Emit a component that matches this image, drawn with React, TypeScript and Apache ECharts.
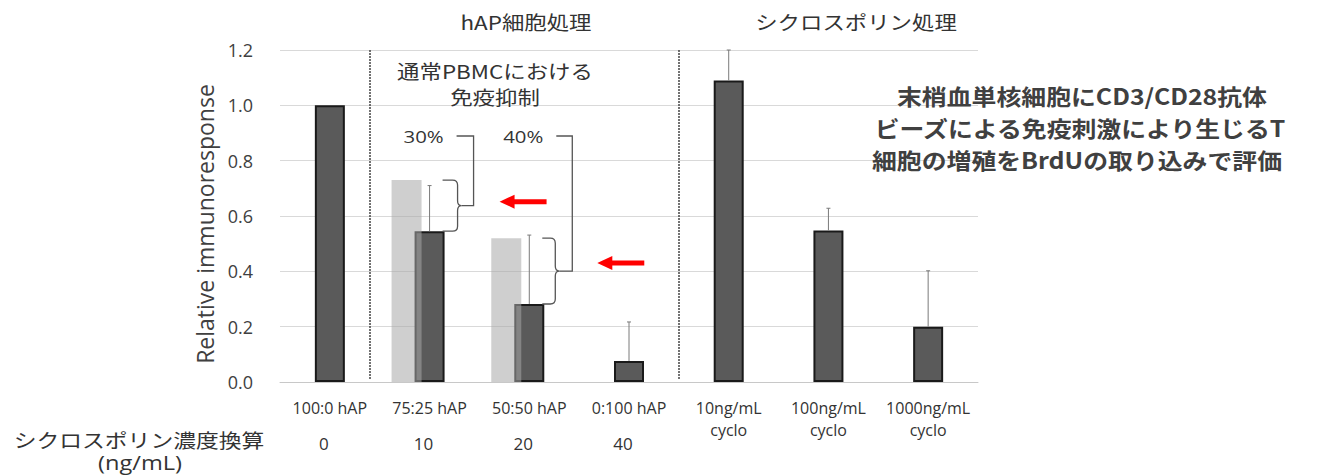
import React, { useEffect, useRef } from "react";
import * as echarts from "echarts";

// Treatment groups along the x axis
const categories = [
  "100:0 hAP",
  "75:25 hAP",
  "50:50 hAP",
  "0:100 hAP",
  "10ng/mL\ncyclo",
  "100ng/mL\ncyclo",
  "1000ng/mL\ncyclo",
];
// Relative immunoresponse (dark bars)
const relativeResponse = [1.0, 0.545, 0.282, 0.076, 1.09, 0.548, 0.2];
// Upper end of each error bar (null = no error bar)
const errorUpper: (number | null)[] = [null, 0.71, 0.531, 0.217, 1.2, 0.628, 0.402];
// Immunosuppression seen in normal PBMC (light overlay bars)
const normalPbmcResponse: (number | null)[] = [null, 0.73, 0.52, null, null, null, null];
// Cyclosporin-equivalent concentration (ng/mL) of each hAP ratio
const cyclosporinEquivalent = ["0", "10", "20", "40", "", "", ""];
// Suppression percentages marked by the brackets
const suppressionLabels = ["30%", "40%"];

const CJK = "'Noto Sans CJK JP', 'Noto Sans', sans-serif";
const LATIN = "'Open Sans', 'Noto Sans', sans-serif";

export default function App() {
  const ref = useRef<HTMLDivElement>(null);

  useEffect(() => {
    if (!ref.current) return;
    const chart = echarts.init(ref.current, undefined, { renderer: "svg" });

    const lightData = normalPbmcResponse
      .map((v, i) => (v == null ? null : [i, v]))
      .filter((d) => d != null);
    const errorData = errorUpper
      .map((u, i) => (u == null ? null : [i, relativeResponse[i], u]))
      .filter((d) => d != null);

    chart.setOption({
      animation: false,
      backgroundColor: "#ffffff",
      grid: { left: 280, right: 363, top: 50, bottom: 94, containLabel: false },
      xAxis: [
        {
          type: "category",
          data: categories,
          axisLine: { lineStyle: { color: "#c8c8c8", width: 1 } },
          axisTick: { show: false },
          axisLabel: {
            interval: 0,
            margin: 15,
            fontFamily: LATIN,
            fontSize: 16,
            lineHeight: 22,
            color: "#333333",
          },
        },
        {
          type: "category",
          position: "bottom",
          offset: 42,
          data: cyclosporinEquivalent,
          axisLine: { show: false },
          axisTick: { show: false },
          axisLabel: {
            interval: 0,
            margin: 8,
            fontFamily: LATIN,
            fontSize: 17,
            lineHeight: 22,
            color: "#333333",
            padding: [0, 12, 0, 0],
          },
        },
      ],
      yAxis: {
        type: "value",
        min: 0,
        max: 1.2,
        interval: 0.2,
        name: "Relative immunoresponse",
        nameLocation: "middle",
        nameRotate: 90,
        nameGap: 64,
        nameTextStyle: {
          fontFamily: LATIN,
          fontSize: 23,
          color: "#404040",
          padding: [0, 16, 0, 0],
        },
        axisLine: { show: false },
        axisTick: { show: false },
        axisLabel: {
          margin: 27,
          fontFamily: LATIN,
          fontSize: 18,
          color: "#404040",
          formatter: (v: number) => v.toFixed(1),
        },
        splitLine: { lineStyle: { color: "#d9d9d9", width: 1 } },
      },
      series: [
        {
          type: "bar",
          data: relativeResponse,
          barWidth: 30,
          z: 2,
          itemStyle: { color: "#5a5a5a", borderColor: "#1a1a1a", borderWidth: 2 },
        },
        {
          type: "custom",
          z: 3,
          data: lightData,
          renderItem: (params: any, api: any) => {
            const top = api.coord([api.value(0), api.value(1)]);
            const base = api.coord([api.value(0), 0]);
            const w = 30;
            return {
              type: "rect",
              shape: { x: top[0] - 23 - w / 2, y: top[1], width: w, height: base[1] - top[1] },
              style: { fill: "rgba(168,168,168,0.55)" },
            };
          },
        },
        {
          type: "custom",
          z: 4,
          data: errorData,
          renderItem: (params: any, api: any) => {
            const lo = api.coord([api.value(0), api.value(1)]);
            const hi = api.coord([api.value(0), api.value(2)]);
            const s = { stroke: "#7a7a7a", lineWidth: 1 };
            return {
              type: "group",
              children: [
                { type: "line", shape: { x1: lo[0], y1: lo[1], x2: lo[0], y2: hi[1] }, style: s },
                { type: "line", shape: { x1: lo[0] - 2, y1: hi[1], x2: lo[0] + 2, y2: hi[1] }, style: s },
              ],
            };
          },
        },
      ],
    });

    // Annotation layer: brackets, arrows, headings
    const px = (i: number, v: number) =>
      chart.convertToPixel({ xAxisIndex: 0, yAxisIndex: 0 }, [i, v]) as number[];

    const braceD = (L: number, S: number, T: number, yt: number, yb: number) => {
      const ym = (yt + yb) / 2;
      const r = 5;
      return (
        `M${L},${yt} L${S - r},${yt} Q${S},${yt} ${S},${yt + r} L${S},${ym - r} ` +
        `Q${S},${ym} ${T},${ym} Q${S},${ym} ${S},${ym + r} L${S},${yb - r} ` +
        `Q${S},${yb} ${S - r},${yb} L${L},${yb}`
      );
    };

    const groups = [
      { i: 1, sOff: 28, tOff: 32, vOff: 44, arrowOff: 70, arrowDy: -4 },
      { i: 2, sOff: 26, tOff: 30, vOff: 43, arrowOff: 68, arrowDy: -8 },
    ];
    const bracketTop = 136;
    const lineStyle = { stroke: "#555555", lineWidth: 1.3, fill: "none" };
    const ann: any[] = [];

    groups.forEach((g, k) => {
      const cx = px(g.i, 0)[0];
      const yt = px(g.i, normalPbmcResponse[g.i] as number)[1];
      const yb = px(g.i, relativeResponse[g.i])[1];
      const ym = (yt + yb) / 2;
      const name = `brace${k}`;
      echarts.graphic.registerShape(
        name,
        echarts.graphic.extendPath(braceD(cx + 13, cx + g.sOff, cx + g.tOff, yt, yb), {}) as any
      );
      ann.push({ type: name, z: 10, style: { ...lineStyle } });
      ann.push({
        type: "polyline",
        z: 10,
        shape: {
          points: [
            [cx + 27, bracketTop],
            [cx + g.vOff, bracketTop],
            [cx + g.vOff, ym],
            [cx + g.tOff, ym],
          ],
        },
        style: { ...lineStyle },
      });
      ann.push({
        type: "text",
        z: 10,
        x: cx - 6,
        y: bracketTop,
        scaleX: 1.2,
        style: {
          text: suppressionLabels[k],
          fontFamily: LATIN,
          fontSize: 17,
          fill: "#333333",
          align: "center",
          verticalAlign: "middle",
        },
      });
      // red arrow pointing at the bracket
      const tipX = cx + g.arrowOff;
      const ay = ym + g.arrowDy;
      ann.push({
        type: "polygon",
        z: 10,
        shape: { points: [[tipX, ay], [tipX + 15, ay - 7], [tipX + 15, ay + 7]] },
        style: { fill: "#ff0000" },
      });
      ann.push({
        type: "rect",
        z: 10,
        shape: { x: tipX + 14, y: ay - 2.5, width: 33, height: 5 },
        style: { fill: "#ff0000" },
      });
    });

    const gridTop = px(0, 1.2)[1];
    const gridBottom = px(0, 0)[1];
    [370, 679].forEach((x) =>
      ann.push({
        type: "line",
        z: 5,
        shape: { x1: x, y1: gridTop, x2: x, y2: gridBottom - 2 },
        style: { stroke: "#444444", lineWidth: 1.5, lineDash: [2, 1] },
      })
    );

    const txt = (
      text: string,
      x: number,
      y: number,
      size: number,
      opts: { bold?: boolean; color?: string; scaleX?: number; font?: string } = {}
    ) => ({
      type: "text",
      z: 10,
      x,
      y,
      scaleX: opts.scaleX ?? 1.18,
      style: {
        text,
        fontFamily: opts.font ?? CJK,
        fontSize: size,
        fontWeight: opts.bold ? "bold" : "normal",
        fill: opts.color ?? "#333333",
        align: "center",
        verticalAlign: "middle",
      },
    });

    ann.push(txt("hAP細胞処理", 526, 22, 19));
    ann.push(txt("シクロスポリン処理", 856, 22, 19));
    ann.push(txt("通常PBMCにおける", 495, 71, 19));
    ann.push(txt("免疫抑制", 495, 97, 19));
    ann.push(txt("末梢血単核細胞にCD3/CD28抗体", 1082, 96, 22, { bold: true, color: "#404040", scaleX: 1.13 }));
    ann.push(txt("ビーズによる免疫刺激により生じるT", 1080, 128, 22, { bold: true, color: "#404040", scaleX: 1.13 }));
    ann.push(txt("細胞の増殖をBrdUの取り込みで評価", 1077, 160, 22, { bold: true, color: "#404040", scaleX: 1.13 }));
    ann.push(txt("シクロスポリン濃度換算", 139, 440, 19, { scaleX: 1.2 }));
    ann.push(txt("(ng/mL)", 140, 462, 20, { scaleX: 1.18, font: LATIN }));

    chart.setOption({ graphic: { elements: ann } });

    return () => chart.dispose();
  }, []);

  return (
    <div
      ref={ref}
      style={{ position: "absolute", left: 0, top: 0, width: 1341, height: 476, background: "#fff" }}
    />
  );
}
